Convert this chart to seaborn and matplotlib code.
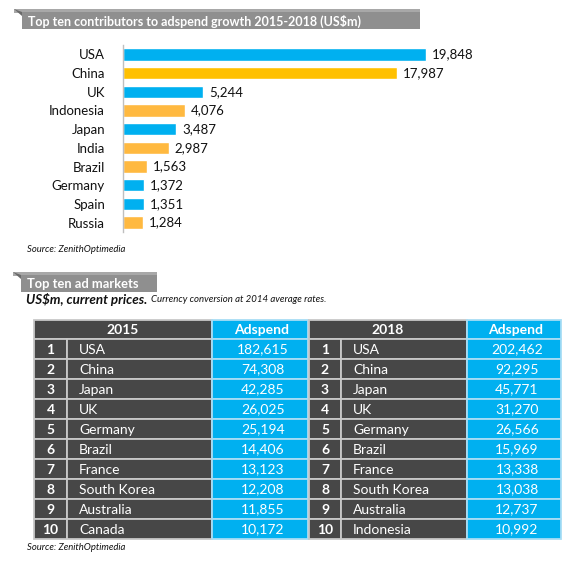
import matplotlib
matplotlib.use("Agg")
import matplotlib.pyplot as plt
import seaborn as sns
import pandas as pd
from matplotlib.patches import Rectangle, Polygon

# ---------------- data ----------------
countries = ["USA", "China", "UK", "Indonesia", "Japan", "India", "Brazil", "Germany", "Spain", "Russia"]
growth = [19848, 17987, 5244, 4076, 3487, 2987, 1563, 1372, 1351, 1284]
group = ["Developed", "Emerging", "Developed", "Emerging", "Developed", "Emerging", "Emerging",
         "Developed", "Developed", "Emerging"]

ranks = [1, 2, 3, 4, 5, 6, 7, 8, 9, 10]
markets_2015 = ["USA", "China", "Japan", "UK", "Germany", "Brazil", "France", "South Korea", "Australia", "Canada"]
spend_2015 = [182615, 74308, 42285, 26025, 25194, 14406, 13123, 12208, 11855, 10172]
markets_2018 = ["USA", "China", "Japan", "UK", "Germany", "Brazil", "France", "South Korea", "Australia", "Indonesia"]
spend_2018 = [202462, 92295, 45771, 31270, 26566, 15969, 13338, 13038, 12737, 10992]

BLUE = "#00B0F0"
ORANGE = "#FFB940"
GOLD = "#FFC000"
DARK = "#474747"
GRID = "#C8C8C8"
FONT = ["Lato", "DejaVu Sans"]

sns.set_theme(style="white")
plt.rcParams["font.family"] = FONT

W, H = 570, 568
fig = plt.figure(figsize=(W / 100, H / 100), dpi=100)
fig.patch.set_facecolor("white")

# overlay axes in pixel coordinates
ov = fig.add_axes([0, 0, 1, 1])
ov.set_xlim(0, W)
ov.set_ylim(H, 0)
ov.axis("off")
ov.patch.set_alpha(0)


def banner(x0, x1, y0, y1, text, fs):
    ov.add_patch(Rectangle((x0, y0), x1 - x0, 4, color="#A8A8A8", lw=0))
    ov.add_patch(Rectangle((x0 + 8, y0 + 3), x1 - x0 - 8, y1 - y0 - 3, color="#8F8F8F", lw=0))
    ov.add_patch(Polygon([(x0, y0), (x0 + 8, y0 + 3), (x0 + 8, y0 + 7)], closed=True, color="#6A6A6A", lw=0))
    ov.text(x0 + 14, (y0 + y1) / 2 + 2, text, color="white", fontsize=fs, fontweight="bold",
            va="center", ha="left")


banner(14, 420, 9, 29, "Top ten contributors to adspend growth 2015-2018 (US$m)", 9.0)

# ---------------- bar chart ----------------
df = pd.DataFrame({"country": countries, "growth": growth, "group": group})
pal = {c: (GOLD if c == "China" else (BLUE if g == "Developed" else ORANGE)) for c, g in zip(countries, group)}
ax_left, ax_top, ax_bot, ax_w = 123, 45, 232, 400
ax = fig.add_axes([ax_left / W, 1 - ax_bot / H, ax_w / W, (ax_bot - ax_top) / H])
sns.barplot(data=df, y="country", x="growth", hue="country", orient="h", dodge=False,
            palette=pal, saturation=1, width=0.66, ax=ax, legend=False)
ax.set_xlim(0, ax_w / 0.01525)
ax.set_ylim(9.5, -0.5)
ax.set_xlabel("")
ax.set_ylabel("")
ax.set_xticks([])
for s in ["top", "right", "bottom"]:
    ax.spines[s].set_visible(False)
ax.spines["left"].set_color("#BFBFBF")
ax.spines["left"].set_linewidth(1.0)
ax.tick_params(axis="y", which="major", length=0, pad=13, labelsize=9.5, labelcolor="#111111")
ax.set_yticks(range(len(countries)), [c for c in countries])
ax.set_yticks([i - 0.5 for i in range(len(countries) + 1)], minor=True)
ax.tick_params(axis="y", which="minor", length=4, color="#BFBFBF", width=0.8, direction="out")
ax.patch.set_alpha(0)
for i, v in enumerate(growth):
    ax.text(v + 6 / 0.01525, i, f"{v:,}", va="center", ha="left", fontsize=9.5, color="#111111")

ov.text(27, 250, "Source: ZenithOptimedia", fontsize=6.8, style="italic", va="center", color="#111111")

# ---------------- second section ----------------
banner(13, 157, 272, 292, "Top ten ad markets", 9.3)
t1 = ov.text(26, 299.5, "US$m, current prices.", fontsize=9.6, fontweight="bold", style="italic",
             va="center", ha="left", color="#111111")
fig.canvas.draw()
bb = t1.get_window_extent()
x_end = bb.x1
ov.text(x_end + 4, 300, "Currency conversion at 2014 average rates.", fontsize=6.9, style="italic",
        va="center", ha="left", color="#111111")

hdr_top, hdr_h, row_h = 320, 19, 20
TFS = 10


def table(cols, year, names, values):
    rx, nx, ax0, ax1 = cols
    # header
    ov.add_patch(Rectangle((rx, hdr_top), ax0 - rx, hdr_h, facecolor=DARK, edgecolor=GRID, lw=1.3))
    ov.add_patch(Rectangle((ax0, hdr_top), ax1 - ax0, hdr_h, facecolor=BLUE, edgecolor="#A8DDF5", lw=1.3))
    ov.text((rx + ax0) / 2, hdr_top + hdr_h / 2 + 0.5, year, color="white", fontweight="bold",
            fontsize=TFS, ha="center", va="center")
    ov.text((ax0 + ax1) / 2 + 2, hdr_top + hdr_h / 2 + 0.5, "Adspend", color="white", fontweight="bold",
            fontsize=TFS, ha="center", va="center")
    for i, (r, n, v) in enumerate(zip(ranks, names, values)):
        y = hdr_top + hdr_h + i * row_h
        ov.add_patch(Rectangle((rx, y), nx - rx, row_h, facecolor=DARK, edgecolor=GRID, lw=1.3))
        ov.add_patch(Rectangle((nx, y), ax0 - nx, row_h, facecolor=DARK, edgecolor=GRID, lw=1.3))
        ov.add_patch(Rectangle((ax0, y), ax1 - ax0, row_h, facecolor=BLUE, edgecolor="#A8DDF5", lw=1.3))
        cy = y + row_h / 2 + 0.5
        ov.text((rx + nx) / 2, cy, str(r), color="white", fontweight="bold", fontsize=TFS,
                ha="center", va="center")
        ov.text(nx + 12, cy, n, color="white", fontsize=TFS, ha="left", va="center")
        ov.text((ax0 + ax1) / 2 + 3, cy, f"{v:,}", color="white", fontsize=TFS, ha="center", va="center")


table((34, 67, 212, 308), "2015", markets_2015, spend_2015)
table((309, 341, 467, 561), "2018", markets_2018, spend_2018)

ov.text(27, 547, "Source: ZenithOptimedia", fontsize=6.8, style="italic", va="center", color="#111111")

fig.savefig("out.png", dpi=100, facecolor="white")
